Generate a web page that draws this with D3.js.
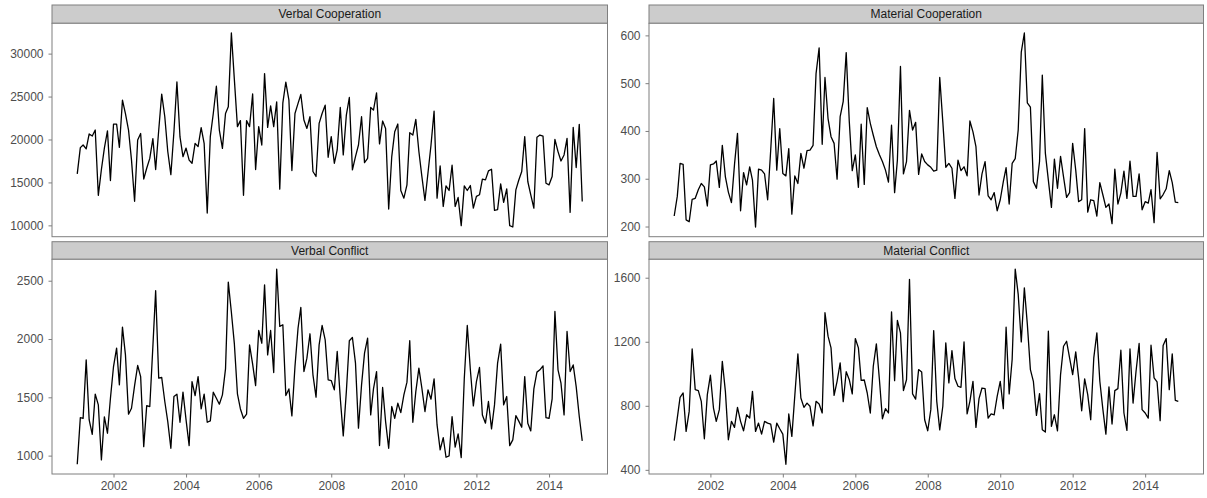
<!DOCTYPE html>
<html><head><meta charset="utf-8">
<script src="https://cdn.jsdelivr.net/npm/d3@7"></script>
<style>
body{margin:0;background:#fff;}
svg text{font-family:"Liberation Sans",Arial,Helvetica,sans-serif;}
</style></head>
<body><svg id="chart" width="1207" height="498"></svg>
<script>
// Monthly observations Jan 2001 – Dec 2014
const months = d3.utcMonth.range(new Date(Date.UTC(2001,0,1)), new Date(Date.UTC(2015,0,1)));

const verbalCooperation = [16000,19050,19360,18900,20640,20400,21100,13500,16500,19000,21000,15220,
21800,21800,19090,24580,23000,21100,17600,12800,19940,20700,15400,16650,
17800,20100,16500,21100,25280,22650,18600,15900,20900,26700,20300,18000,
19000,17600,17230,19550,19170,21370,19550,11430,20330,23030,26200,21100,
18970,23030,23800,32400,27000,21500,22200,13500,22200,21500,25300,16500,
21500,19360,27680,21410,23920,21490,24390,14220,24270,26670,24580,16380,
23030,24200,25240,22260,21290,22650,16270,15690,21870,23030,24000,17930,
20330,17230,18780,23730,18200,22840,24890,16460,18010,19360,22650,17310,
17810,23730,23420,25430,19480,22150,21290,11900,18010,20910,21800,14060,
13170,14720,20790,20520,22340,18600,15700,12900,16150,19360,23300,13170,
16920,12200,14600,14060,17000,12200,13250,9960,14600,14060,14640,12010,
13370,13560,15380,15300,16340,16540,11740,11820,14830,12670,14250,9960,
9810,14140,15220,16270,20330,15110,13560,12010,20250,20520,20400,14910,
14720,15690,20020,18590,17500,18200,20130,11510,21410,16730,21760,12790];

const materialCooperation = [222,263,332,330,214,210,257,259,277,290,283,243,
329,331,337,282,370,304,272,250,330,395,233,313,
287,325,297,199,320,318,310,256,360,468,318,405,
311,306,363,226,306,290,353,322,359,360,370,520,
574,372,512,426,388,374,299,430,462,564,420,317,
350,282,414,288,449,416,391,367,350,336,318,293,
412,271,339,535,310,336,443,402,418,309,352,336,
329,324,316,318,512,419,324,332,322,259,339,317,
325,306,421,398,367,266,310,336,264,256,271,233,
256,294,323,247,332,342,402,565,605,459,450,294,
280,336,517,353,297,240,341,280,347,304,261,271,
374,318,252,256,405,230,256,254,222,292,266,240,
247,206,320,247,270,316,259,337,263,263,310,235,
252,249,277,208,355,258,267,279,317,292,251,250];

const verbalConflict = [926,1326,1320,1821,1306,1183,1527,1435,963,1332,1192,1492,
1764,1922,1607,2102,1864,1355,1406,1601,1773,1678,1077,1429,
1421,1936,2414,1664,1670,1464,1292,1063,1507,1527,1286,1544,
1306,1086,1635,1515,1678,1401,1527,1286,1298,1544,1492,1441,
1521,1744,2488,2230,1960,1530,1400,1320,1355,1950,1784,1601,
2073,1964,2465,1864,2073,1713,2600,2108,2122,1515,1572,1341,
1764,2093,2271,1721,1836,2045,1693,1501,1950,2116,1993,1650,
1644,1564,1893,1492,1169,1549,1985,2013,1793,1235,1607,1879,
2007,1349,1572,1721,1086,1584,1292,1063,1421,1320,1449,1369,
1521,1630,1985,1286,1549,1750,1578,1378,1564,1484,1658,1263,
1049,1155,986,997,1335,1072,1186,983,1664,2116,1736,1426,
1635,1756,1349,1278,1464,1229,1435,1793,1956,1435,1507,1086,
1135,1343,1298,1243,1678,1278,1212,1572,1716,1736,1770,1326,
1320,1487,2236,1736,1621,1349,2065,1721,1778,1592,1335,1126];

const materialConflict = [582,723,853,880,640,765,1155,901,895,828,594,870,
991,786,703,776,1078,890,588,703,665,790,703,644,
744,723,890,640,692,623,703,692,686,573,692,657,
623,435,749,609,865,1124,849,790,817,797,675,828,
811,755,1381,1235,1162,865,953,1068,826,1013,963,874,
1220,1162,959,961,880,755,1047,1187,963,719,782,755,
1387,957,1333,1256,895,963,1590,874,842,1026,1011,713,
644,776,1270,828,650,797,1193,943,1145,970,922,915,
1199,749,828,953,665,845,911,907,723,749,744,859,
953,782,1291,874,1089,1654,1496,1199,1537,1310,1026,953,
740,876,650,636,1266,671,744,644,995,1172,1203,1099,
995,1137,974,769,968,870,713,1099,1256,953,776,623,
918,686,895,907,1147,755,646,1155,817,1016,1189,776,
755,723,1178,974,949,707,1176,1220,901,1124,834,828];

const panelTitles = ["Verbal Cooperation","Material Cooperation","Verbal Conflict","Material Conflict"];
const panelSeries = [verbalCooperation, materialCooperation, verbalConflict, materialConflict];
const panelTicks = [[10000,15000,20000,25000,30000],[200,300,400,500,600],[1000,1500,2000,2500],[400,800,1200,1600]];
const xTickYears = [2002,2004,2006,2008,2010,2012,2014];

const svg = d3.select("#chart");
const cols = [[52,607.5],[649,1203.5]];
const rows = [{strip:[5,23.3],plot:[23.3,236.7]},{strip:[241.7,259.3],plot:[259.3,474]}];
const border = "#7f7f7f";

// shared x scale domain with 5% expansion (ggplot style)
const t0 = months[0].getTime(), t1 = months[months.length-1].getTime();
const pad = (t1-t0)*0.05;
const xDomain = [new Date(t0-pad), new Date(t1+pad)];

panelSeries.forEach((vals, k) => {
  const c = cols[k%2], r = rows[Math.floor(k/2)];
  const x = d3.scaleUtc().domain(xDomain).range(c);
  const ext = d3.extent(vals), yp = (ext[1]-ext[0])*0.05;
  const y = d3.scaleLinear().domain([ext[0]-yp, ext[1]+yp]).range([r.plot[1], r.plot[0]]);
  const g = svg.append("g");

  // strip
  g.append("rect").attr("x",c[0]).attr("y",r.strip[0]).attr("width",c[1]-c[0]).attr("height",r.strip[1]-r.strip[0])
    .attr("fill","#cccccc").attr("stroke",border).attr("stroke-width",1);
  g.append("text").attr("x",(c[0]+c[1])/2).attr("y",(r.strip[0]+r.strip[1])/2).attr("dy","0.35em")
    .attr("text-anchor","middle").attr("font-size",12).attr("fill","#1a1a1a").text(panelTitles[k]);

  // plot background
  g.append("rect").attr("x",c[0]).attr("y",r.plot[0]).attr("width",c[1]-c[0]).attr("height",r.plot[1]-r.plot[0])
    .attr("fill","#fff");

  // y axis
  const ya = g.append("g").attr("transform",`translate(${c[0]},0)`)
    .call(d3.axisLeft(y).tickValues(panelTicks[k]).tickFormat(d3.format("d")).tickSize(3.5).tickPadding(5));
  ya.select(".domain").remove();
  ya.selectAll("line").attr("stroke",border);
  ya.selectAll("text").attr("font-size",12).attr("fill","#4d4d4d").attr("font-family",null);

  // x axis (bottom row only)
  if (Math.floor(k/2) === 1) {
    const xa = g.append("g").attr("transform",`translate(0,${r.plot[1]})`)
      .call(d3.axisBottom(x).tickValues(xTickYears.map(yv => new Date(Date.UTC(yv,0,1))))
        .tickFormat(d3.utcFormat("%Y")).tickSize(3.5).tickPadding(4));
    xa.select(".domain").remove();
    xa.selectAll("line").attr("stroke",border);
    xa.selectAll("text").attr("font-size",12).attr("fill","#4d4d4d").attr("font-family",null);
  }

  // line
  const line = d3.line().x((d,i)=>x(months[i])).y(d=>y(d));
  g.append("path").datum(vals).attr("d",line).attr("fill","none").attr("stroke","#000")
    .attr("stroke-width",1.3).attr("stroke-linejoin","round");

  // panel border
  g.append("rect").attr("x",c[0]).attr("y",r.plot[0]).attr("width",c[1]-c[0]).attr("height",r.plot[1]-r.plot[0])
    .attr("fill","none").attr("stroke",border).attr("stroke-width",1);
});
</script></body></html>
